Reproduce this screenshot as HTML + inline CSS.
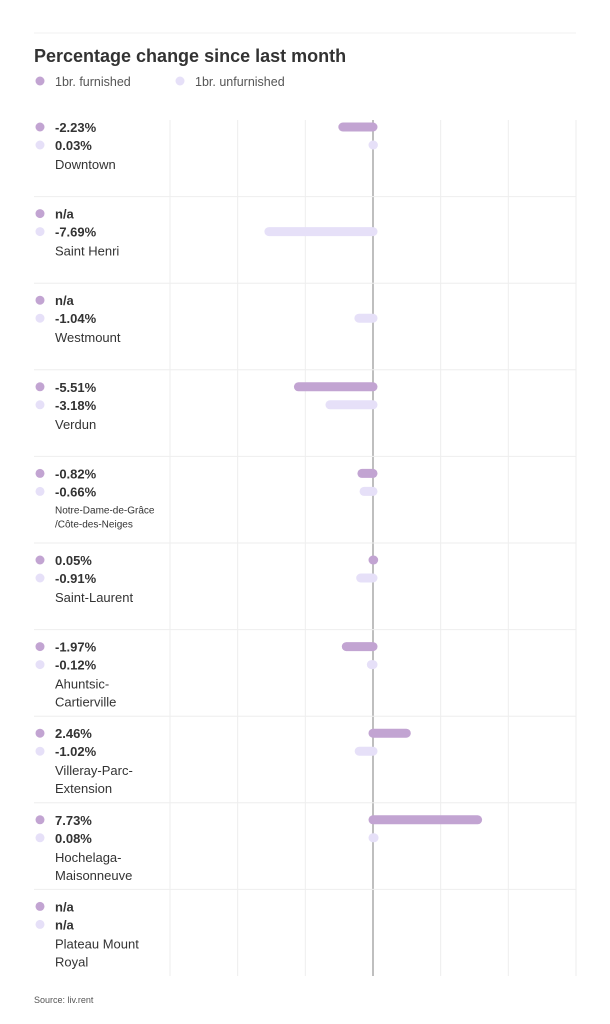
<!DOCTYPE html>
<html><head><meta charset="utf-8"><style>
html,body{margin:0;padding:0;background:#fff;}
svg{display:block;font-family:"Liberation Sans",sans-serif;}
</style></head><body>
<svg id="chart" width="610" height="1024" viewBox="0 0 610 1024">
<line x1="34" y1="33" x2="576" y2="33" stroke="#f0f0f0"/>
<text x="34" y="62" font-size="18" font-weight="bold" fill="#333">Percentage change since last month</text>
<g>
<circle cx="40" cy="81" r="4.5" fill="#c2a4d2"/>
<text x="55" y="86" font-size="12.5" fill="#555">1br. furnished</text>
<circle cx="180" cy="81" r="4.5" fill="#e6e0f8"/>
<text x="195" y="86" font-size="12.5" fill="#555">1br. unfurnished</text>
</g>
<g id="grid"></g>
<g id="rows"></g>
<text x="34" y="1003" font-size="9" fill="#555">Source: liv.rent</text>
</svg>
<script>
const categories = [["Downtown"],["Saint Henri"],["Westmount"],["Verdun"],["Notre-Dame-de-Grâce","/Côte-des-Neiges"],["Saint-Laurent"],["Ahuntsic-","Cartierville"],["Villeray-Parc-","Extension"],["Hochelaga-","Maisonneuve"],["Plateau Mount","Royal"]];
const furnished = [-2.23, null, null, -5.51, -0.82, 0.05, -1.97, 2.46, 7.73, null];
const unfurnished = [0.03, -7.69, -1.04, -3.18, -0.66, -0.91, -0.12, -1.02, 0.08, null];
const gridTicks = [-15, -10, -5, 0, 5, 10, 15];

const NS = "http://www.w3.org/2000/svg";
const x0 = 170, x1 = 576, topY = 110, rowH = 86.6;
const x = v => x0 + (v + 15) / 30 * (x1 - x0);
function mk(tag, attrs, parent){ const e=document.createElementNS(NS,tag); for(const k in attrs) e.setAttribute(k,attrs[k]); parent.appendChild(e); return e; }
const grid = document.getElementById('grid'), rows = document.getElementById('rows');
const bottomY = topY + rowH * categories.length;
gridTicks.forEach(t => {
  const l = mk('line',{x1:x(t),x2:x(t),y1:topY+10,y2:bottomY,stroke:t===0?'#aaa':'#eee','stroke-width':t===0?1.5:1},grid);
  
  
});
for(let i=1;i<categories.length;i++){
  const l = mk('line',{x1:34,x2:576,y1:topY+rowH*i,y2:topY+rowH*i,stroke:'#eee'},grid);
  
  
}
const fmt = v => v===null ? 'n/a' : v.toFixed(2)+'%';
categories.forEach((name, i) => {
  const y = topY + rowH*i;
  const g = mk('g',{},rows);
  
  
  [[furnished[i],'#c2a4d2',17],[unfurnished[i],'#e6e0f8',35]].forEach(([v,c,dy],k)=>{
    const d = mk('circle',{cx:40,cy:y+dy,r:4.5,fill:c},g);
    
    
    const t = mk('text',{x:55,y:y+dy+5,'font-size':13,'font-weight':'bold',fill:'#333'},g);
    t.textContent = fmt(v);
    
    
    if(v!==null){
      const a = Math.min(x(0),x(v)), b = Math.max(x(0),x(v));
      const bar = mk('line',{x1:a,x2:b,y1:y+dy,y2:y+dy,stroke:c,'stroke-width':9,'stroke-linecap':'round'},g);
      
      
    }
  });
  const small = name[0].length > 16;
  name.forEach((ln,j)=>{
    const t = mk('text',{x:55,y:y+(small?57+j*14:59+j*18),'font-size':small?10:13,fill:'#333'},g);
    t.textContent = ln;
    
    
  });
});
</script>
</body></html>
